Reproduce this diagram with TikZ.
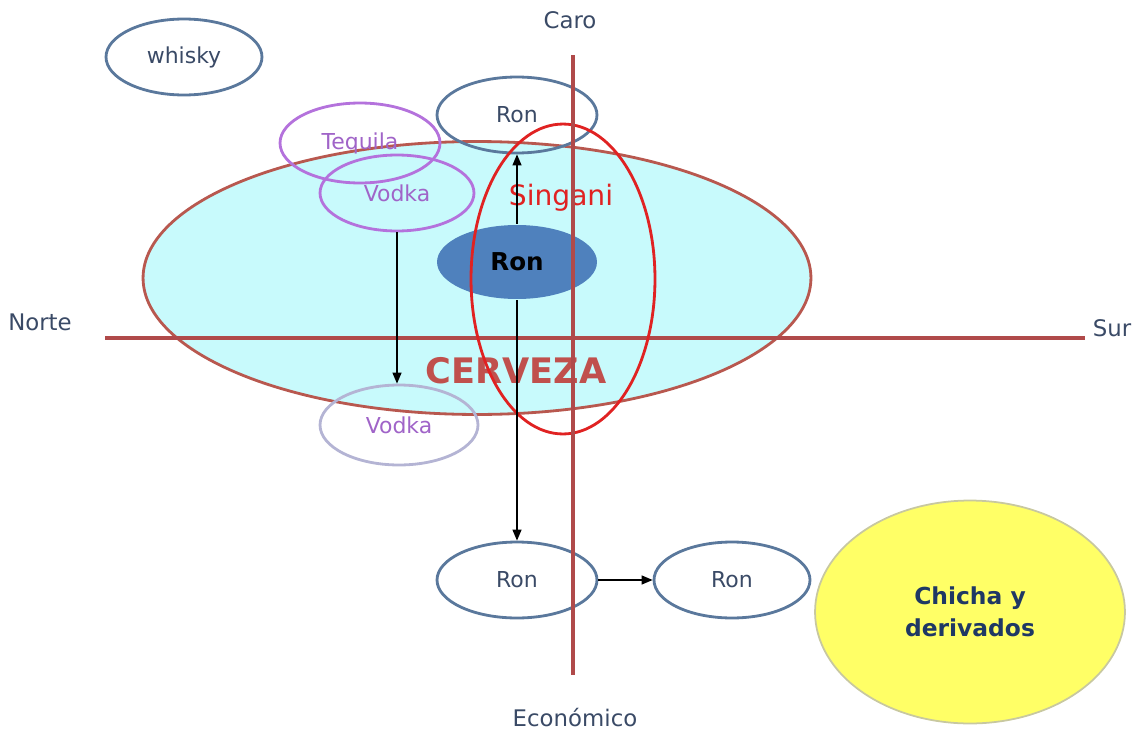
\documentclass[tikz,border=0pt]{standalone}
\usepackage{fontspec}
\setmainfont{DejaVu Sans}
\usetikzlibrary{shapes.geometric,arrows.meta}
\definecolor{axisred}{HTML}{B04A4A}
\definecolor{beerfill}{HTML}{C8FAFC}
\definecolor{beerline}{HTML}{B8584F}
\definecolor{slate}{HTML}{3A4A66}
\definecolor{bluering}{HTML}{5A789C}
\definecolor{purplering}{HTML}{B472DC}
\definecolor{purpletext}{HTML}{A064C8}
\definecolor{lavring}{HTML}{B4B4D4}
\definecolor{ronfill}{HTML}{4F81BD}
\definecolor{singred}{HTML}{E02222}
\definecolor{cervtext}{HTML}{C0504D}
\definecolor{chichafill}{HTML}{FFFF66}
\definecolor{chichaline}{HTML}{C8C8A0}
\definecolor{navy}{HTML}{1F3864}
\tikzset{
  oval/.style={ellipse, inner sep=0pt, line width=1.6pt},
  bluebox/.style={oval, draw=bluering, text=slate, font=\fontsize{12.5}{15}\selectfont},
  purplebox/.style={oval, draw=purplering, text=purpletext, font=\fontsize{12.5}{15}\selectfont},
  axisline/.style={axisred, line width=2.4pt},
  axislabel/.style={text=slate, font=\fontsize{13}{15}\selectfont},
  conn/.style={-{Triangle[length=2.2mm,width=1.8mm]}, line width=0.7pt, black}
}
\begin{document}
\begin{tikzpicture}[x=0.02cm, y=-0.02cm]
\useasboundingbox (0,0) rectangle (1136,730);

% beer market: large filled ellipse
\node[oval, draw=beerline, fill=beerfill, line width=1.6pt,
      minimum width=13.36cm, minimum height=5.46cm] (cerveza) at (477,278) {};

% horizontal axis
\coordinate (axW) at (105,338);
\coordinate (axE) at (1085,338);
\draw[axisline] (axW) -- (axE);
\node[axislabel] (norte) at (40,322) {Norte};
\node[axislabel] (sur) at (1112,328) {Sur};

\node[text=cervtext, font=\bfseries\fontsize{20}{24}\selectfont] (cervlabel) at (516,371) {CERVEZA};

% central rum
\node[oval, fill=ronfill, draw=none, minimum width=3.2cm, minimum height=1.48cm,
      font=\bfseries\fontsize{14}{16}\selectfont] (rondark) at (517,262) {Ron};

% other drinks
\node[bluebox, minimum width=3.12cm, minimum height=1.52cm] (whisky) at (184,57) {whisky};
\node[purplebox, minimum width=3.2cm, minimum height=1.6cm] (tequila) at (360,143) {Tequila};
\node[purplebox, minimum width=3.08cm, minimum height=1.52cm] (vodkaA) at (397,193) {Vodka};
\node[oval, draw=lavring, text=purpletext, font=\fontsize{12.5}{15}\selectfont,
      minimum width=3.16cm, minimum height=1.6cm] (vodkaB) at (399,425) {Vodka};
\node[bluebox, minimum width=3.2cm, minimum height=1.52cm] (rontop) at (517,115) {Ron};
\node[bluebox, minimum width=3.2cm, minimum height=1.52cm] (ronlow) at (517,580) {Ron};
\node[bluebox, minimum width=3.12cm, minimum height=1.52cm] (ronright) at (732,580) {Ron};

% singani
\node[oval, draw=singred, minimum width=3.68cm, minimum height=6.2cm] (singani) at (563,279) {};
\node[text=singred, font=\fontsize{16}{19}\selectfont] (singlabel) at (561,198) {Singani};

% chicha
\node[oval, draw=chichaline, fill=chichafill, line width=1pt,
      minimum width=6.2cm, minimum height=4.46cm, align=center, text=navy,
      font=\bfseries\fontsize{13.3}{18}\selectfont] (chicha) at (970,612) {Chicha y\\derivados};

% vertical axis
\coordinate (axN) at (573,55);
\coordinate (axS) at (573,675);
\draw[axisline] (axN) -- (axS);
\node[axislabel] (caro) at (570,20) {Caro};
\node[axislabel] (econ) at (575,718) {Económico};

% movements
\draw[conn] (vodkaA.south) -- (vodkaA.south |- vodkaB.north);
\draw[conn] (rondark.north) -- (rontop.south);
\draw[conn] (rondark.south) -- (ronlow.north);
\draw[conn] (ronlow.east) -- (ronright.west);
\end{tikzpicture}
\end{document}
